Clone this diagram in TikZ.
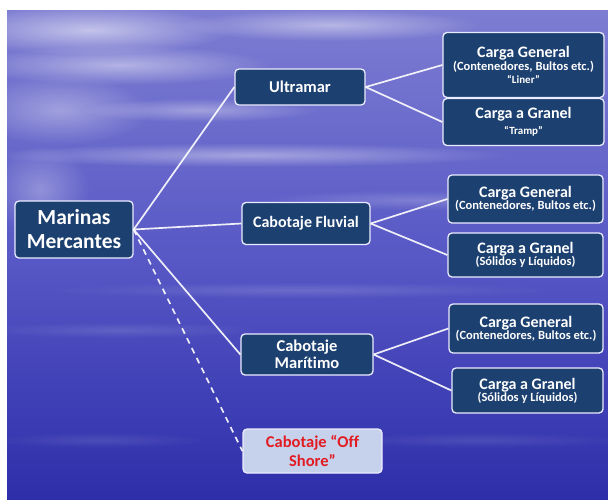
\documentclass[tikz,border=0pt]{standalone}
\usepackage{fontspec}
\setmainfont{Carlito}[Ligatures=NoCommon]
\usetikzlibrary{fadings}
\tikzfading[name=softcloud, inner color=transparent!0, outer color=transparent!100]
\definecolor{boxfill}{RGB}{28,64,112}
\definecolor{bgtop}{RGB}{125,125,210}
\definecolor{bgmid}{RGB}{88,88,198}
\definecolor{bgbot}{RGB}{46,46,170}
\definecolor{osfill}{RGB}{198,210,236}
\definecolor{osred}{RGB}{226,28,34}
\tikzset{
  mbox/.style={draw=white!92!blue, line width=1.3pt, fill=boxfill, rounded corners=4pt,
    text=white, font=\bfseries, align=center, inner sep=1pt},
  osbox/.style={draw=white!92!blue, line width=1.3pt, fill=osfill, rounded corners=4pt,
    text=osred, font=\bfseries\fontsize{16.5}{19}\selectfont, align=center, inner sep=1pt},
  conn/.style={draw=white, line width=1.7pt, opacity=0.9},
  dconn/.style={conn, dash pattern=on 6pt off 5pt},
  cloud/.style={white, path fading=softcloud, fill opacity=#1},
}
\newcommand{\myhd}{\fontsize{16}{18}\selectfont}
\newcommand{\mysb}{\fontsize{12.5}{14}\selectfont}
\newcommand{\mysbb}{\fontsize{11}{13}\selectfont}
\begin{document}
\begin{tikzpicture}[x=1pt,y=-1pt]
\useasboundingbox (0,0) rectangle (608,499);
\fill[white] (0,0) rectangle (608,499);
\shade[top color=bgtop, bottom color=bgbot, middle color=bgmid, shading angle=0] (7,10) rectangle (608,499);
% clouds
\begin{scope}
\clip (7,10) rectangle (608,499);
\fill[cloud=0.55] (90,30) ellipse (140 and 25);
\fill[cloud=0.45] (330,25) ellipse (150 and 16);
\fill[cloud=0.45] (120,65) ellipse (150 and 20);
\fill[cloud=0.35] (60,110) ellipse (90 and 35);
\fill[cloud=0.35] (200,110) ellipse (120 and 12);
\fill[cloud=0.40] (250,155) ellipse (260 and 12);
\fill[cloud=0.30] (40,190) ellipse (50 and 45);
\fill[cloud=0.20] (420,200) ellipse (160 and 10);
\fill[cloud=0.15] (300,290) ellipse (250 and 8);
\fill[cloud=0.12] (120,330) ellipse (140 and 8);
\fill[cloud=0.10] (480,440) ellipse (150 and 8);
\fill[cloud=0.10] (100,440) ellipse (110 and 8);
\end{scope}

\node[mbox, minimum width=118pt, minimum height=57pt, font=\bfseries\fontsize{21.5}{24}\selectfont] (mm) at (74,229.5) {Marinas\\Mercantes};
\node[mbox, minimum width=130pt, minimum height=36pt, font=\bfseries\fontsize{16.5}{18}\selectfont] (ul) at (300,87) {Ultramar};
\node[mbox, minimum width=128pt, minimum height=42pt, font=\bfseries\myhd] (cf) at (306,223.5) {Cabotaje Fluvial};
\node[mbox, minimum width=132pt, minimum height=41pt, font=\bfseries\fontsize{16.5}{17}\selectfont] (cm) at (307,354.5) {Cabotaje\\Marítimo};
\node[osbox, minimum width=139pt, minimum height=44pt] (os) at (312.5,451) {Cabotaje “Off\\Shore”};

\node[mbox, minimum width=161pt, minimum height=65pt] (cg1) at (523.5,65) {{\myhd Carga General}\\[1pt]{\mysb (Contenedores, Bultos etc.)}\\[1pt]{\mysbb “Liner”}};
\node[mbox, minimum width=161pt, minimum height=47pt] (cgr1) at (523.5,122) {{\myhd Carga a Granel}\\[4pt]{\mysbb “Tramp”}};
\node[mbox, minimum width=155pt, minimum height=48pt] (cg2) at (525.5,199) {{\myhd Carga General}\\{\mysb (Contenedores, Bultos etc.)}};
\node[mbox, minimum width=155pt, minimum height=44pt] (cgr2) at (525.5,255) {{\myhd Carga a Granel}\\{\mysb (Sólidos y Líquidos)}};
\node[mbox, minimum width=154pt, minimum height=49pt] (cg3) at (526,328.5) {{\myhd Carga General}\\{\mysb (Contenedores, Bultos etc.)}};
\node[mbox, minimum width=151pt, minimum height=45pt] (cgr3) at (527.5,390.5) {{\myhd Carga a Granel}\\{\mysb (Sólidos y Líquidos)}};

\draw[conn] (mm.east) -- (ul.west);
\draw[conn] (mm.east) -- (cf.west);
\draw[conn] (mm.east) -- (cm.west);
\draw[dconn] (mm.east) -- (os.west);
\draw[conn] (ul.east) -- (cg1.west);
\draw[conn] (ul.east) -- (cgr1.west);
\draw[conn] (cf.east) -- (cg2.west);
\draw[conn] (cf.east) -- (cgr2.west);
\draw[conn] (cm.east) -- (cg3.west);
\draw[conn] (cm.east) -- (cgr3.west);
\end{tikzpicture}
\end{document}
